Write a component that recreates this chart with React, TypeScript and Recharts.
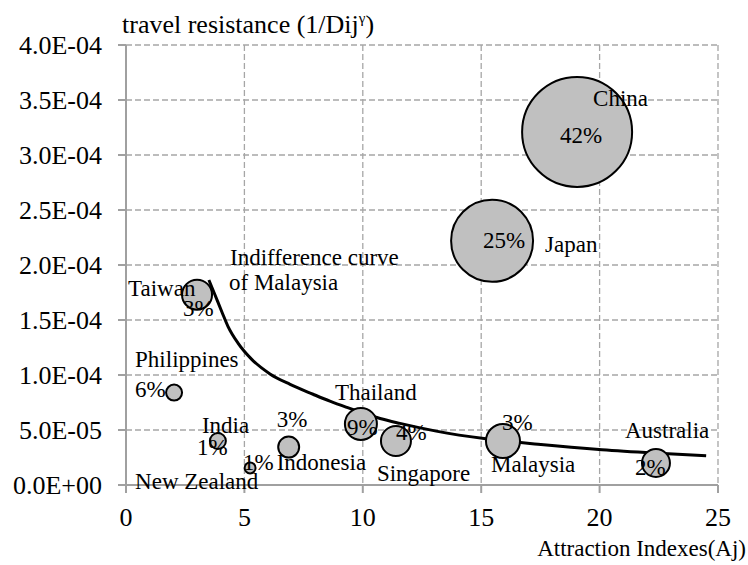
import { CartesianGrid, ComposedChart, Customized, Line, Scatter, XAxis, YAxis, ZAxis } from "recharts";

// destinations (bubbles)
const countries = ["China", "Japan", "Taiwan", "Philippines", "India", "Indonesia", "New Zealand", "Thailand", "Singapore", "Malaysia", "Australia"];
const attraction = [19.05, 15.46, 3.0, 2.03, 3.88, 6.87, 5.24, 9.92, 11.4, 15.92, 22.38];
const resistance = [3.21e-4, 2.22e-4, 1.73e-4, 0.84e-4, 0.4e-4, 0.345e-4, 0.155e-4, 0.555e-4, 0.4e-4, 0.4e-4, 0.2e-4];
const share = ["42%", "25%", "3%", "6%", "1%", "3%", "1%", "9%", "4%", "3%", "2%"];
const bubble = [30.25, 16.8, 2.25, 0.64, 0.64, 1.1, 0.3, 2.56, 2.25, 2.9, 1.96];

// indifference curve of Malaysia
const curveX = [3.5, 3.76, 4.05, 4.31, 4.73, 5.32, 6.08, 6.93, 7.9, 8.61, 9.33, 10.0, 10.73, 11.57, 13.1, 15.2, 17.4, 20.1, 22.3, 24.5];
const curveY = [1.864e-4, 1.727e-4, 1.573e-4, 1.44e-4, 1.29e-4, 1.14e-4, 1.01e-4, 0.915e-4, 0.825e-4, 0.762e-4, 0.705e-4, 0.655e-4, 0.605e-4, 0.56e-4, 0.49e-4, 0.42e-4, 0.37e-4, 0.32e-4, 0.29e-4, 0.265e-4];

const xTicks = [0, 5, 10, 15, 20, 25];
const yTicks = [0, 0.5e-4, 1e-4, 1.5e-4, 2e-4, 2.5e-4, 3e-4, 3.5e-4, 4e-4];

// where each label sits around its bubble (name dx, dy, share dx, dy), px from the centre
const labelOffsets: Record<string, [number, number, number, number]> = {
  China: [16, -26, -17, 11],
  Japan: [53, 11, -9, 7],
  Taiwan: [-69, 1, -14, 21],
  Philippines: [-39, -26, -39, 4],
  India: [-16, -8, -21, 14],
  Indonesia: [-12, 23, -12, -20],
  "New Zealand": [-115, 21, -7, 2],
  Thailand: [-26, -24, -14, 11],
  Singapore: [-19, 40, 0, -1],
  Malaysia: [-12, 31, -1, -11],
  Australia: [-31, -25, -21, 12],
};

const points = countries.map((name, i) => ({
  name,
  x: attraction[i],
  y: resistance[i],
  z: bubble[i],
  pct: share[i],
}));

const curve = curveX.map((x, i) => ({ x, y: curveY[i] }));

const FONT = "'Liberation Serif', 'Times New Roman', serif";

const fmtY = (v: number) => {
  const [m, e] = v.toExponential(1).split("e");
  const n = parseInt(e, 10);
  const sign = n < 0 ? "-" : "+";
  return `${m}E${sign}${String(Math.abs(n)).padStart(2, "0")}`;
};

const Bubble = (props: any) => {
  const { cx, cy, width, size } = props;
  const r = width ? width / 2 : Math.sqrt((size || 0) / Math.PI);
  return <circle cx={cx} cy={cy} r={r} fill="#c0c0c0" stroke="#000" strokeWidth={2} />;
};

const BubbleLabel = (props: any) => {
  const { cx, cy, payload } = props;
  const o = labelOffsets[payload.name] || [0, 0, 0, 0];
  return (
    <g fontFamily={FONT} fontSize={23} fill="#000">
      <text x={cx + o[0]} y={cy + o[1]}>{payload.name}</text>
      <text x={cx + o[2]} y={cy + o[3]}>{payload.pct}</text>
    </g>
  );
};

const Annotations = () => (
  <g fontFamily={FONT} fill="#000">
    <text x={122} y={33} fontSize={26}>
      travel resistance (1/Dij<tspan fontSize={15} dy={-10}>γ</tspan><tspan dy={10}>)</tspan>
    </text>
    <text x={746} y={556} fontSize={23} textAnchor="end">Attraction Indexes(Aj)</text>
    <text x={230} y={265} fontSize={23}>Indifference curve</text>
    <text x={229} y={290} fontSize={23}>of Malaysia</text>
  </g>
);

export default function App() {
  return (
    <div style={{ position: "absolute", left: 0, top: 0, background: "#fff" }}>
      <ComposedChart width={748} height={565} margin={{ top: 45, right: 30, bottom: 40, left: 0 }}>
        <CartesianGrid stroke="#a6a6a6" strokeDasharray="6 3" strokeWidth={1.3} />
        <XAxis
          type="number"
          dataKey="x"
          domain={[0, 25]}
          ticks={xTicks}
          height={40}
          tickSize={8}
          tickMargin={15}
          stroke="#a0a0a0"
          strokeWidth={2}
          tick={{ fill: "#000", fontSize: 26, fontFamily: FONT }}
        />
        <YAxis
          type="number"
          dataKey="y"
          domain={[0, 4e-4]}
          ticks={yTicks}
          width={126}
          tickSize={8}
          tickMargin={16}
          stroke="#a0a0a0"
          strokeWidth={2}
          tickFormatter={fmtY}
          tick={{ fill: "#000", fontSize: 26, fontFamily: FONT }}
        />
        <ZAxis type="number" dataKey="z" domain={[0, 40]} range={[0, 4000 * Math.PI]} />
        <Scatter data={points} shape={Bubble} isAnimationActive={false} />
        <Line
          data={curve}
          dataKey="y"
          type="monotone"
          stroke="#000"
          strokeWidth={3}
          dot={false}
          activeDot={false}
          isAnimationActive={false}
        />
        <Scatter data={points} shape={BubbleLabel} isAnimationActive={false} />
        <Customized component={Annotations} />
      </ComposedChart>
    </div>
  );
}
